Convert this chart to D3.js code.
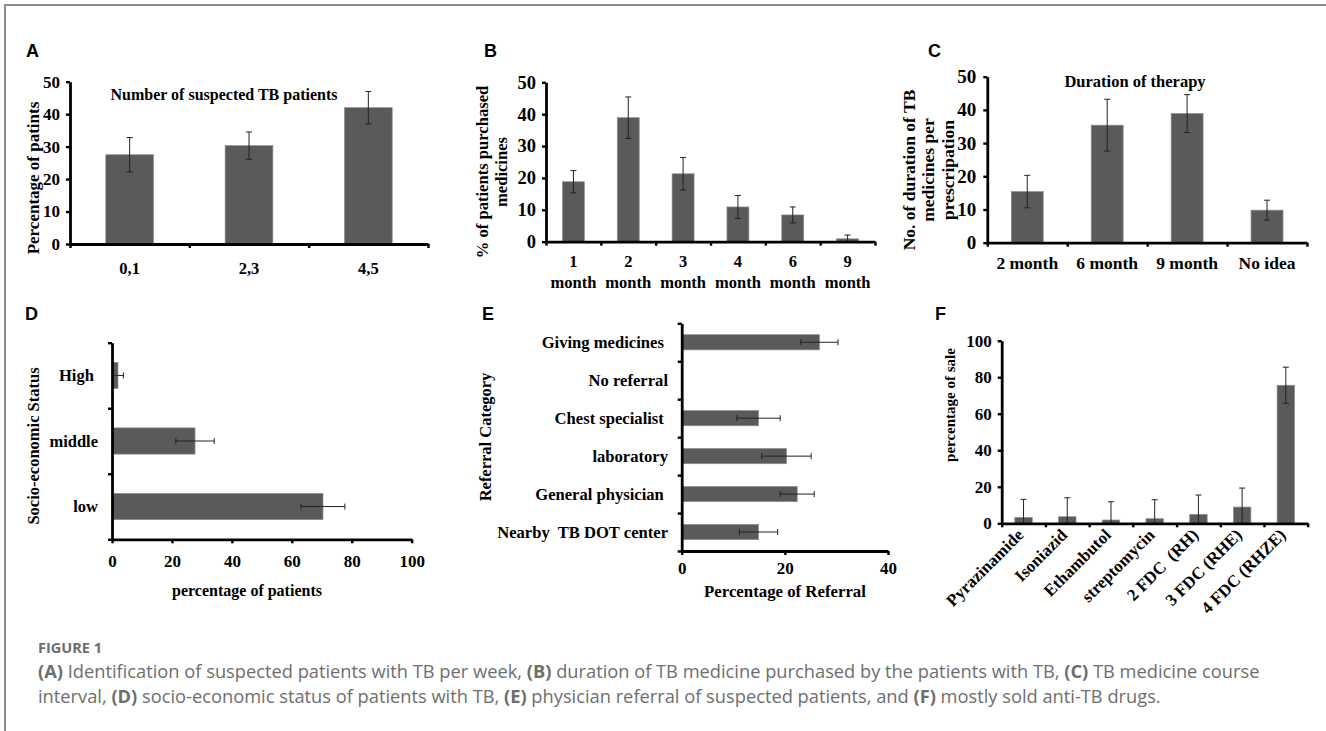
<!DOCTYPE html>
<head>
  <meta charset="utf-8">
  <script src="https://d3js.org/d3.v7.min.js"></script>
  <style>
    body { margin: 0; background: #fff; }
    svg text { font-family: "Liberation Serif", "Times New Roman", serif; font-weight: bold; fill: #000; }
    svg text.panel { font-family: "Liberation Sans", Arial, sans-serif; font-size: 18px; }
    svg text.cap { font-family: "Open Sans", sans-serif; font-weight: normal; fill: #6e6e6e; }
    .axis path, .axis line { stroke: #000; }
  </style>
</head>
<body>
  <script>
    // panel A - suspected TB patients per week
    var aCats = ["0,1", "2,3", "4,5"];
    var aVals = [27.5, 30.3, 42.0];
    var aErr = [5.3, 4.2, 5.0];

    // panel B - duration of medicine purchased
    var bCats = ["1 month", "2 month", "3 month", "4 month", "6 month", "9 month"];
    var bVals = [18.8, 38.9, 21.3, 10.9, 8.4, 0.9];
    var bErr = [3.5, 6.5, 5.1, 3.6, 2.5, 1.2];

    // panel C - duration of therapy
    var cCats = ["2 month", "6 month", "9 month", "No idea"];
    var cVals = [15.4, 35.4, 38.9, 9.8];
    var cErr = [4.9, 7.8, 5.7, 3.0];

    // panel D - socio-economic status
    var dCats = ["High ", "middle", "low"];
    var dVals = [2.0, 27.7, 70.4];
    var dErr = [1.8, 6.4, 7.3];

    // panel E - referral category
    var eCats = ["Giving medicines ", "No referral", "Chest specialist ", "laboratory", "General physician ", "Nearby  TB DOT center"];
    var eVals = [26.7, 0, 14.9, 20.3, 22.4, 14.9];
    var eErr = [3.6, 0, 4.2, 4.8, 3.3, 3.7];

    // panel F - drugs sold
    var fCats = ["Pyrazinamide", "Isoniazid", "Ethambutol", "streptomycin", "2 FDC  (RH)", "3 FDC (RHE)", "4 FDC (RHZE)"];
    var fVals = [3.2, 3.6, 1.8, 2.5, 4.9, 8.9, 75.6];
    var fErr = [9.9, 10.4, 10.0, 10.4, 10.6, 10.4, 9.9];

    var barFill = "#5a5a5a";

    var svg = d3.select("body").append("svg")
      .attr("width", 1326)
      .attr("height", 731);

    // page frame (top + left rule)
    svg.append("path")
      .attr("d", "M5,731V5H1326")
      .attr("fill", "none")
      .attr("stroke", "#8c8c8c")
      .attr("stroke-width", 2);

    function styleAxis(g) {
      g.select(".domain").attr("stroke-width", 2.8);
      g.selectAll(".tick line").attr("stroke-width", 2.4);
      g.selectAll("text").attr("font-size", 17).attr("fill", "#000");
    }

    function rotTitle(g, lines, x, y, size, lh) {
      var t = g.append("text")
        .attr("transform", "translate(" + x + "," + y + ") rotate(-90)")
        .attr("text-anchor", "middle")
        .attr("font-size", size);
      lines.forEach(function(l, i) {
        t.append("tspan").attr("x", 0).attr("y", (i - (lines.length - 1) / 2) * lh).attr("dy", "0.35em").text(l);
      });
    }

    // vertical bars
    function vbars(o) {
      var g = svg.append("g");
      var x = d3.scaleBand().domain(o.cats).range([o.x0, o.x1]).paddingInner(0.6).paddingOuter(0.3);
      var y = d3.scaleLinear().domain([0, o.max]).range([o.y0, o.y1]);
      var edge = d3.scaleLinear().domain([0, o.cats.length]).range([o.x0, o.x1]);

      g.selectAll("rect").data(o.vals).enter().append("rect")
        .attr("x", function(d, i) { return x(o.cats[i]); })
        .attr("y", function(d) { return y(d); })
        .attr("width", x.bandwidth())
        .attr("height", function(d) { return o.y0 - y(d); })
        .attr("fill", barFill)
        .attr("stroke", "#8e8e8e")
        .attr("stroke-width", 0.7);

      var eg = g.append("g").attr("stroke", "#222").attr("stroke-width", 1);
      o.vals.forEach(function(v, i) {
        var cx = x(o.cats[i]) + x.bandwidth() / 2;
        var lo = Math.max(0, v - o.errs[i]), hi = v + o.errs[i];
        eg.append("line").attr("x1", cx).attr("x2", cx).attr("y1", y(lo)).attr("y2", y(hi));
        eg.append("line").attr("x1", cx - o.cap).attr("x2", cx + o.cap).attr("y1", y(hi)).attr("y2", y(hi));
        if (v - o.errs[i] > 0) {
          eg.append("line").attr("x1", cx - o.cap).attr("x2", cx + o.cap).attr("y1", y(lo)).attr("y2", y(lo));
        }
      });

      g.append("g").attr("class", "axis")
        .attr("transform", "translate(" + o.x0 + ",0)")
        .call(d3.axisLeft(y).tickValues(d3.range(0, o.max + 1, o.step)).tickSize(4).tickSizeOuter(0).tickPadding(o.tickPad || 6))
        .call(styleAxis)
        .selectAll("text").attr("font-size", o.tickFont);

      g.append("g").attr("class", "axis")
        .attr("transform", "translate(0," + o.y0 + ")")
        .call(d3.axisBottom(edge).tickValues(d3.range(0, o.cats.length + 1)).tickFormat("").tickSize(4).tickSizeOuter(0))
        .call(styleAxis);

      return { g: g, x: x, y: y };
    }

    // horizontal bars
    function hbars(o) {
      var g = svg.append("g");
      var y = d3.scaleBand().domain(o.cats).range([o.y1, o.y0]).paddingInner(0.6).paddingOuter(0.3);
      var x = d3.scaleLinear().domain([0, o.max]).range([o.x0, o.x1]);
      var edge = d3.scaleLinear().domain([0, o.cats.length]).range([o.y1, o.y0]);

      g.selectAll("rect").data(o.vals).enter().append("rect")
        .attr("x", o.x0)
        .attr("y", function(d, i) { return y(o.cats[i]); })
        .attr("width", function(d) { return x(d) - o.x0; })
        .attr("height", y.bandwidth())
        .attr("fill", barFill)
        .attr("stroke", "#8e8e8e")
        .attr("stroke-width", 0.7);

      var eg = g.append("g").attr("stroke", "#222").attr("stroke-width", 1);
      o.vals.forEach(function(v, i) {
        if (v === 0) return;
        var cy = y(o.cats[i]) + y.bandwidth() / 2;
        var lo = Math.max(0, v - o.errs[i]), hi = v + o.errs[i];
        eg.append("line").attr("y1", cy).attr("y2", cy).attr("x1", x(lo)).attr("x2", x(hi));
        eg.append("line").attr("y1", cy - o.cap).attr("y2", cy + o.cap).attr("x1", x(hi)).attr("x2", x(hi));
        eg.append("line").attr("y1", cy - o.cap).attr("y2", cy + o.cap).attr("x1", x(lo)).attr("x2", x(lo));
      });

      g.append("g").attr("class", "axis")
        .attr("transform", "translate(" + o.x0 + ",0)")
        .call(d3.axisLeft(edge).tickValues(d3.range(0, o.cats.length + 1)).tickFormat("").tickSize(4).tickSizeOuter(0))
        .call(styleAxis);

      g.append("g").attr("class", "axis")
        .attr("transform", "translate(0," + o.y0 + ")")
        .call(d3.axisBottom(x).tickValues(d3.range(0, o.max + 1, o.step)).tickSize(4).tickSizeOuter(0).tickPadding(o.pad))
        .call(styleAxis);

      g.selectAll(".catlab").data(o.cats).enter().append("text")
        .attr("class", "catlab")
        .attr("x", o.labX)
        .attr("y", function(d) { return y(d) + y.bandwidth() / 2; })
        .attr("dy", "0.35em")
        .attr("text-anchor", "end")
        .attr("font-size", o.labSize)
        .style("white-space", "pre")
        .text(function(d) { return d; });

      return { g: g, x: x, y: y };
    }

    // ---- A ----
    var A = vbars({ cats: aCats, vals: aVals, errs: aErr, x0: 70, x1: 428, y0: 244, y1: 81.7, max: 50, step: 10, cap: 3, tickFont: 17 });
    A.g.selectAll(".catlab").data(aCats).enter().append("text")
      .attr("x", function(d) { return A.x(d) + A.x.bandwidth() / 2; })
      .attr("y", 274).attr("text-anchor", "middle").attr("font-size", 16.5).text(function(d) { return d; });
    A.g.append("text").attr("x", 224).attr("y", 100).attr("text-anchor", "middle").attr("font-size", 16)
      .text("Number of suspected TB patients");
    rotTitle(A.g, ["Percentage of patints"], 33, 178, 17, 19);
    svg.append("text").attr("class", "panel").attr("x", 26).attr("y", 57).text("A");

    // ---- B ----
    var B = vbars({ cats: bCats, vals: bVals, errs: bErr, x0: 546, x1: 875, y0: 241.7, y1: 82.3, max: 50, step: 10, cap: 3, tickFont: 18.5 });
    bCats.forEach(function(c) {
      var cx = B.x(c) + B.x.bandwidth() / 2;
      var parts = c.split(" ");
      B.g.append("text").attr("x", cx).attr("y", 267).attr("text-anchor", "middle").attr("font-size", 16.5).text(parts[0]);
      B.g.append("text").attr("x", cx).attr("y", 288).attr("text-anchor", "middle").attr("font-size", 16.5).text(parts[1]);
    });
    rotTitle(B.g, ["% of patients purchased", "medicines"], 492, 172, 16.6, 19);
    svg.append("text").attr("class", "panel").attr("x", 484).attr("y", 57).text("B");

    // ---- C ----
    var C = vbars({ cats: cCats, vals: cVals, errs: cErr, x0: 987.3, x1: 1307, y0: 242.7, y1: 76.7, max: 50, step: 10, cap: 3, tickFont: 19, tickPad: 7 });
    C.g.selectAll(".catlab").data(cCats).enter().append("text")
      .attr("x", function(d) { return C.x(d) + C.x.bandwidth() / 2; })
      .attr("y", 269).attr("text-anchor", "middle").attr("font-size", 17.5).text(function(d) { return d; });
    C.g.append("text").attr("x", 1135).attr("y", 87).attr("text-anchor", "middle").attr("font-size", 16.5)
      .text("Duration of therapy");
    rotTitle(C.g, ["No. of duration of TB", "medicines per", "prescripation"], 928, 170, 17.5, 19.5);
    svg.append("text").attr("class", "panel").attr("x", 928).attr("y", 57).text("C");

    // ---- D ----
    var D = hbars({ cats: dCats, vals: dVals, errs: dErr, x0: 112, x1: 411.7, y0: 539.3, y1: 342.7, max: 100, step: 20, cap: 3, pad: 12, labX: 98, labSize: 16.5 });
    D.g.append("text").attr("x", 247).attr("y", 596).attr("text-anchor", "middle").attr("font-size", 16).text("percentage of patients");
    rotTitle(D.g, ["Socio-economic Status"], 33, 446, 16.5, 19);
    svg.append("text").attr("class", "panel").attr("x", 25).attr("y", 320).text("D");

    // ---- E ----
    var E = hbars({ cats: eCats, vals: eVals, errs: eErr, x0: 681.7, x1: 888, y0: 551, y1: 323.3, max: 40, step: 20, cap: 3, pad: 7, labX: 668, labSize: 16.6 });
    E.g.append("text").attr("x", 785).attr("y", 597).attr("text-anchor", "middle").attr("font-size", 16.8).text("Percentage of Referral");
    rotTitle(E.g, ["Referral Category"], 485, 437, 16.5, 19);
    svg.append("text").attr("class", "panel").attr("x", 482).attr("y", 320).text("E");

    // ---- F ----
    var F = vbars({ cats: fCats, vals: fVals, errs: fErr, x0: 1001.7, x1: 1307.7, y0: 523.3, y1: 340.7, max: 100, step: 20, cap: 3, tickFont: 17 });
    F.g.selectAll(".catlab").data(fCats).enter().append("text")
      .attr("transform", function(d) {
        return "translate(" + (F.x(d) + F.x.bandwidth() / 2 + 1) + ",536) rotate(-45)";
      })
      .attr("text-anchor", "end").attr("font-size", 17).style("white-space", "pre").text(function(d) { return d; });
    rotTitle(F.g, ["percentage of sale"], 950, 405, 15, 19);
    svg.append("text").attr("class", "panel").attr("x", 935).attr("y", 320).text("F");

    // ---- caption ----
    svg.append("text").attr("class", "cap").attr("x", 38).attr("y", 653)
      .attr("font-size", 14.5).style("font-weight", "bold").attr("fill", "#727272").text("FIGURE 1");

    var capLines = [
      [["(A)", 1], [" Identification of suspected patients with TB per week, ", 0], ["(B)", 1], [" duration of TB medicine purchased by the patients with TB, ", 0], ["(C)", 1], [" TB medicine course", 0]],
      [["interval, ", 0], ["(D)", 1], [" socio-economic status of patients with TB, ", 0], ["(E)", 1], [" physician referral of suspected patients, and ", 0], ["(F)", 1], [" mostly sold anti-TB drugs.", 0]]
    ];
    var capY = [678, 703];
    var capScale = 1;
    capLines.forEach(function(line, li) {
      var t = svg.append("text").attr("class", "cap").attr("x", 38).attr("y", capY[li]).attr("font-size", 16).style("white-space", "pre");
      line.forEach(function(p) {
        t.append("tspan").style("font-weight", p[1] ? "bold" : "normal").text(p[0]);
      });
      // fit first line to the reference width
      if (li === 0) {
        capScale = 1222 / t.node().getComputedTextLength();
      }
      t.attr("font-size", 16 * capScale);
    });
  </script>
</body>
